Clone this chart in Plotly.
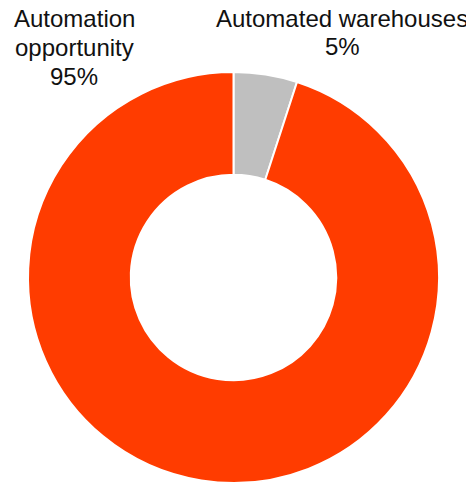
import plotly.graph_objects as go

# slices, clockwise from 12 o'clock
labels = ["Automated warehouses", "Automation opportunity"]
values = [5, 95]
colors = ["#BFBFBF", "#FF3C00"]

fig = go.Figure(go.Pie(
    labels=labels,
    values=values,
    hole=0.5,
    sort=False,
    direction="clockwise",
    rotation=0,
    textinfo="none",
    hoverinfo="label+percent",
    marker=dict(colors=colors, line=dict(color="white", width=2)),
))

# one annotation per text line so the line spacing stays tight
font = dict(family="Liberation Sans, Arial, sans-serif", size=24, color="#111111")
label_lines = [
    (["Automation", "opportunity", "95%"], 0.114, [1.129, 1.059, 0.990]),
    (["Automated warehouses", "5%"], 0.763, [1.131, 1.061]),
]
for lines, x, ys in label_lines:
    for txt, y in zip(lines, ys):
        fig.add_annotation(text=txt, x=x, y=y, xref="paper", yref="paper",
                           xanchor="center", yanchor="middle",
                           showarrow=False, font=font)

fig.update_layout(
    width=474, height=483,
    showlegend=False,
    paper_bgcolor="white",
    margin=dict(t=64, b=8, l=19, r=42),
)
fig.write_html("out.html")
